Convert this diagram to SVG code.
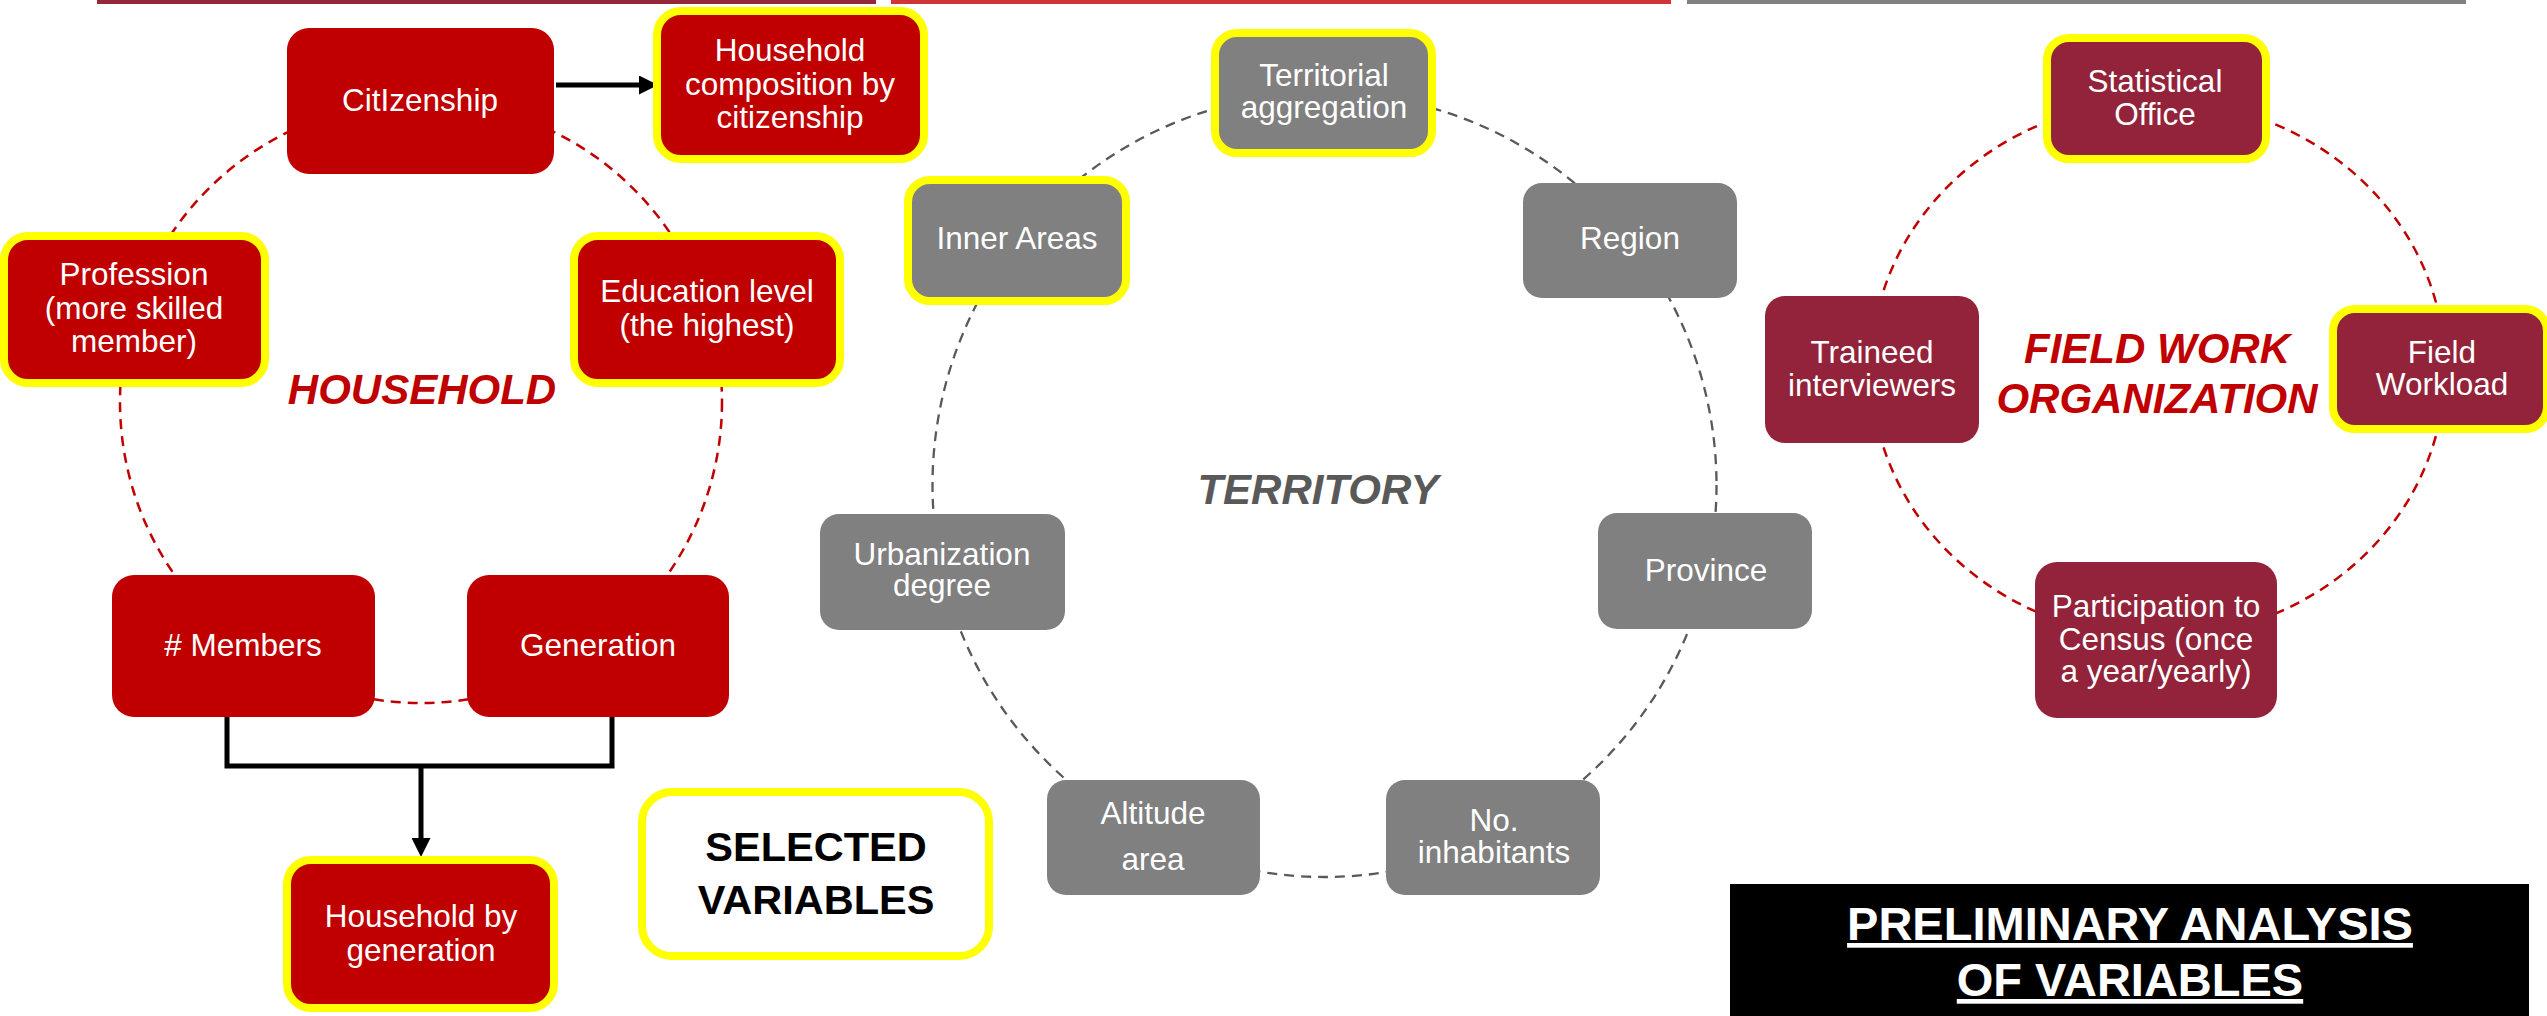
<svg xmlns="http://www.w3.org/2000/svg" width="2547" height="1016" viewBox="0 0 2547 1016">
<style>
  text{font-family:"Liberation Sans",Arial,sans-serif;}
  .t{fill:#ffffff;font-size:31.5px;text-anchor:middle;}
  .red{fill:#C00000;}
  .gray{fill:#808080;}
  .maroon{fill:#93233A;}
  .sel{stroke:#FFFF00;stroke-width:8;}
  .ring-r{fill:none;stroke:#C00000;stroke-width:2.5;stroke-dasharray:10 7;}
  .ring-g{fill:none;stroke:#595959;stroke-width:2.3;stroke-dasharray:10 7;}
  .title{font-size:42px;font-weight:bold;font-style:italic;text-anchor:middle;}
  .conn{fill:none;stroke:#000000;stroke-width:5;}
</style>
<defs>
  <marker id="arrow" viewBox="0 0 19 19" refX="0" refY="9.5" markerWidth="19" markerHeight="19" markerUnits="userSpaceOnUse" orient="auto">
    <path d="M0,0 L19,9.5 L0,19 z" fill="#000000"/>
  </marker>
</defs>

<g id="top-bars">
  <rect x="97" y="0" width="779" height="4" fill="#952838"/>
  <rect x="891" y="0" width="780" height="4" fill="#D13438"/>
  <rect x="1687" y="0" width="779" height="4" fill="#808080"/>
</g>

<g id="rings">
  <circle class="ring-r" cx="421" cy="402" r="301"/>
  <circle class="ring-g" cx="1324.5" cy="485" r="392"/>
  <ellipse class="ring-r" cx="2158" cy="369" rx="287" ry="268"/>
</g>

<g id="connectors">
  <line class="conn" x1="556" y1="85" x2="639" y2="85" marker-end="url(#arrow)"/>
  <path class="conn" d="M227,713 V766 H612 V707"/>
  <line class="conn" x1="421" y1="766" x2="421" y2="838" marker-end="url(#arrow)"/>
</g>

<!-- HOUSEHOLD -->
<g id="n-citizenship">
  <rect class="red" x="287" y="28" width="267" height="146" rx="22"/>
  <text class="t" x="420" y="111">CitIzenship</text>
</g>
<g id="n-household-composition">
  <rect class="red sel" x="657" y="11" width="267" height="148" rx="24"/>
  <text class="t" x="790" y="61">Household</text>
  <text class="t" x="790" y="94.5">composition by</text>
  <text class="t" x="790" y="128">citizenship</text>
</g>
<g id="n-profession">
  <rect class="red sel" x="4" y="236" width="261" height="147" rx="24"/>
  <text class="t" x="134" y="285">Profession</text>
  <text class="t" x="134" y="318.5">(more skilled</text>
  <text class="t" x="134" y="352">member)</text>
</g>
<g id="n-education">
  <rect class="red sel" x="574" y="236" width="266" height="147" rx="24"/>
  <text class="t" x="707" y="302">Education level</text>
  <text class="t" x="707" y="335.5">(the highest)</text>
</g>
<g id="l-household">
  <text class="title red" x="422" y="404">HOUSEHOLD</text>
</g>
<g id="n-members">
  <rect class="red" x="112" y="575" width="263" height="142" rx="22"/>
  <text class="t" x="243" y="656"># Members</text>
</g>
<g id="n-generation">
  <rect class="red" x="467" y="575" width="262" height="142" rx="22"/>
  <text class="t" x="598" y="656">Generation</text>
</g>
<g id="n-household-generation">
  <rect class="red sel" x="287" y="860" width="267" height="148" rx="24"/>
  <text class="t" x="421" y="927">Household by</text>
  <text class="t" x="421" y="961">generation</text>
</g>
<g id="n-selected">
  <rect x="642" y="792" width="347" height="164" rx="30" fill="#ffffff" class="sel"/>
  <text x="816" y="861" font-size="41.5" font-weight="bold" text-anchor="middle" fill="#000000">SELECTED</text>
  <text x="816" y="914" font-size="41.5" font-weight="bold" text-anchor="middle" fill="#000000">VARIABLES</text>
</g>

<!-- TERRITORY -->
<g id="n-territorial">
  <rect class="gray sel" x="1215" y="33" width="217" height="120" rx="22"/>
  <text class="t" x="1324" y="86">Territorial</text>
  <text class="t" x="1324" y="118">aggregation</text>
</g>
<g id="n-inner-areas">
  <rect class="gray sel" x="908" y="180" width="218" height="121" rx="22"/>
  <text class="t" x="1017" y="249">Inner Areas</text>
</g>
<g id="n-region">
  <rect class="gray" x="1523" y="183" width="214" height="115" rx="19"/>
  <text class="t" x="1630" y="249">Region</text>
</g>
<g id="l-territory">
  <text class="title" x="1318" y="504" fill="#595959">TERRITORY</text>
</g>
<g id="n-urbanization">
  <rect class="gray" x="820" y="514" width="245" height="116" rx="19"/>
  <text class="t" x="942" y="565">Urbanization</text>
  <text class="t" x="942" y="596">degree</text>
</g>
<g id="n-province">
  <rect class="gray" x="1598" y="513" width="214" height="116" rx="19"/>
  <text class="t" x="1706" y="581">Province</text>
</g>
<g id="n-altitude">
  <rect class="gray" x="1047" y="780" width="213" height="115" rx="19"/>
  <text class="t" x="1153" y="824">Altitude</text>
  <text class="t" x="1153" y="870">area</text>
</g>
<g id="n-inhabitants">
  <rect class="gray" x="1386" y="780" width="214" height="115" rx="19"/>
  <text class="t" x="1494" y="831">No.</text>
  <text class="t" x="1494" y="863">inhabitants</text>
</g>

<!-- FIELD WORK ORGANIZATION -->
<g id="n-statistical-office">
  <rect class="maroon sel" x="2047" y="38" width="219" height="121" rx="22"/>
  <text class="t" x="2155" y="92">Statistical</text>
  <text class="t" x="2155" y="125">Office</text>
</g>
<g id="n-traineed">
  <rect class="maroon" x="1765" y="296" width="214" height="147" rx="20"/>
  <text class="t" x="1872" y="363">Traineed</text>
  <text class="t" x="1872" y="396">interviewers</text>
</g>
<g id="l-field-work">
  <text class="title red" x="2157" y="363">FIELD WORK</text>
  <text class="title red" x="2157" y="413">ORGANIZATION</text>
</g>
<g id="n-field-workload">
  <rect class="maroon sel" x="2333" y="309" width="214" height="120" rx="22"/>
  <text class="t" x="2442" y="363">Field</text>
  <text class="t" x="2442" y="395">Workload</text>
</g>
<g id="n-participation">
  <rect class="maroon" x="2035" y="562" width="242" height="156" rx="22"/>
  <text class="t" x="2156" y="617">Participation to</text>
  <text class="t" x="2156" y="649.5">Census (once</text>
  <text class="t" x="2156" y="682">a year/yearly)</text>
</g>

<g id="n-preliminary">
  <rect x="1730" y="884" width="799" height="132" fill="#000000"/>
  <text x="2130" y="940" font-size="47" font-weight="bold" text-anchor="middle" fill="#ffffff" text-decoration="underline">PRELIMINARY ANALYSIS</text>
  <text x="2130" y="996" font-size="47" font-weight="bold" text-anchor="middle" fill="#ffffff" text-decoration="underline">OF VARIABLES</text>
</g>
</svg>
